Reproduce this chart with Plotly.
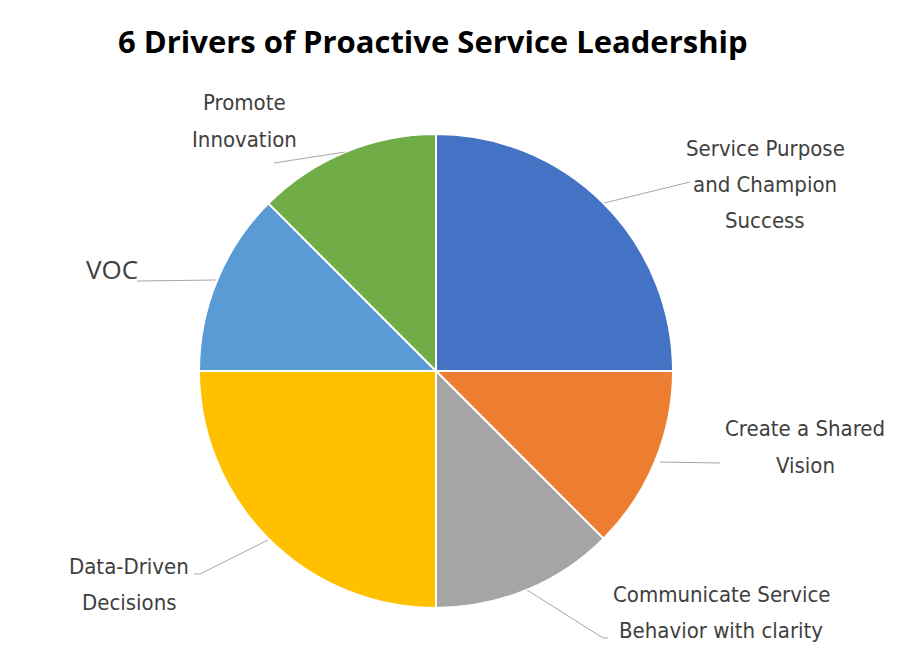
import plotly.graph_objects as go

labels = ["Service Purpose and Champion Success", "Create a Shared Vision",
          "Communicate Service Behavior with clarity", "Data-Driven Decisions",
          "VOC", "Promote Innovation"]
values = [2, 1, 1, 2, 1, 1]
colors = ["#4472C4", "#ED7D31", "#A5A5A5", "#FFC000", "#5B9BD5", "#70AD47"]

label_lines = [["Service Purpose", "and Champion", "Success"],
               ["Create a Shared", "Vision"],
               ["Communicate Service", "Behavior with clarity"],
               ["Data-Driven", "Decisions"],
               ["VOC"],
               ["Promote", "Innovation"]]

W, H = 911, 665
OFF = 8  # page body margin offset
cx, cy, r = 436 - OFF, 371 - OFF, 237


def px(x):
    return (x - OFF) / W


def py(y):
    return 1 - (y - OFF) / H


fig = go.Figure(go.Pie(
    labels=labels, values=values, sort=False, direction="clockwise", rotation=0,
    marker=dict(colors=colors, line=dict(color="white", width=2)),
    textinfo="none", hoverinfo="label+percent", showlegend=False,
    domain=dict(x=[(cx - r) / W, (cx + r) / W], y=[1 - (cy + r) / H, 1 - (cy - r) / H]),
))

cond = "DejaVu Sans Condensed, Liberation Sans Narrow, sans-serif"
# label center x, first line y (reference pixel coordinates)
lab_pos = [(765, 148), (805, 429), (721, 594), (129, 566), (112, 269), (244, 103)]
LS = 36.5
for i, (lines, (x, y)) in enumerate(zip(label_lines, lab_pos)):
    fam = "Open Sans, Liberation Sans, sans-serif" if i == 4 else cond
    for k, ln in enumerate(lines):
        fig.add_annotation(x=px(x), y=py(y + k * LS), xref="paper", yref="paper", text=ln,
                           showarrow=False, xanchor="center", yanchor="middle",
                           font=dict(family=fam, size=22 if i != 4 else 26, color="#404040"))

leaders = [
    [(604, 203), (690, 182)],
    [(660, 462), (720, 463)],
    [(527, 590), (603, 638), (608, 638)],
    [(268, 540), (200, 574), (194, 574)],
    [(216, 280), (137, 281)],
    [(345, 152), (274, 163)],
]
for pts in leaders:
    for (x0, y0), (x1, y1) in zip(pts[:-1], pts[1:]):
        fig.add_shape(type="line", xref="paper", yref="paper",
                      x0=px(x0), y0=py(y0), x1=px(x1), y1=py(y1),
                      line=dict(color="#A6A6A6", width=1))

fig.add_annotation(x=px(433), y=py(41), xref="paper", yref="paper",
                   text="<b>6 Drivers of Proactive Service Leadership</b>", showarrow=False,
                   xanchor="center", yanchor="middle",
                   font=dict(family="Open Sans, Liberation Sans, sans-serif", size=31, color="black"))

fig.update_layout(width=W, height=H, margin=dict(l=0, r=0, t=0, b=0),
                  paper_bgcolor="white", plot_bgcolor="white")
fig.write_html("out.html")
